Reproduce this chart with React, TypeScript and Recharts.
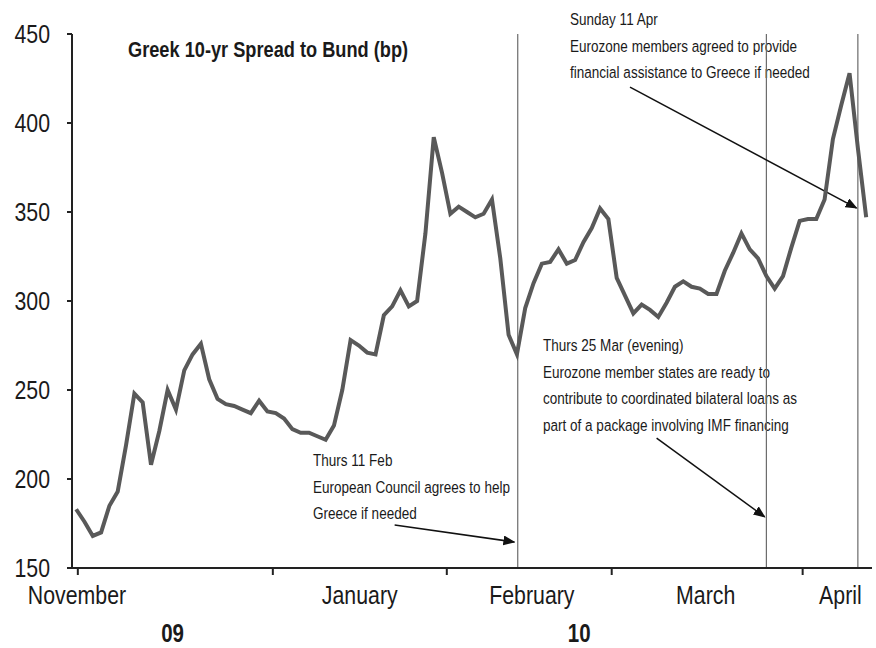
import { Line, LineChart, ReferenceLine, XAxis, YAxis } from 'recharts';

// Greek 10-yr spread to Bund (bp), one value per business day, Nov 09 -> Apr 10
const spread = [
  183, 176, 168, 170, 185, 193, 219, 248, 243, 208,
  227, 250, 239, 261, 270, 276, 256, 245, 242, 241,
  239, 237, 244, 238, 237, 234, 228, 226, 226, 224,
  222, 230, 250, 278, 275, 271, 270, 292, 297, 306,
  297, 300, 338, 392, 372, 349, 353, 350, 347, 349,
  357, 324, 281, 270, 296, 310, 321, 322, 329, 321,
  323, 333, 341, 352, 346, 313, 303, 293, 298, 295,
  291, 299, 308, 311, 308, 307, 304, 304, 317, 327,
  338, 329, 324, 314, 307, 314, 330, 345, 346, 346,
  357, 391, 410, 428, 386, 347,
];

const yTicks = [150, 200, 250, 300, 350, 400, 450];

// x positions are in business-day units
const monthStarts = [0.2, 23.65, 44.57, 64.4, 87.36];
const monthLabels = ['November', 'January', 'February', 'March', 'April'];
const monthLabelPos = [0.1, 34.1, 54.8, 75.7, 91.9];
const yearLabels = ['09', '10'];
const yearLabelPos = [11.6, 60.5];

// Thurs 11 Feb, Thurs 25 Mar, Sunday 11 Apr
const eventDays = [53.1, 83.0, 94.0];

const arrows = [
  [{ x: 38.3, y: 174.2 }, { x: 52.7, y: 164.6 }],
  [{ x: 69.8, y: 223 }, { x: 82.8, y: 178.7 }],
  [{ x: 66.6, y: 420.2 }, { x: 93.85, y: 352.2 }],
];

const notes = [
  { x: 570, y: 25, lines: ['Sunday 11 Apr', 'Eurozone members agreed to provide', 'financial assistance to Greece if needed'] },
  {
    x: 543, y: 351, lines: ['Thurs 25 Mar (evening)', 'Eurozone member states are ready to',
      'contribute to coordinated bilateral loans as', 'part of a package involving IMF financing'],
  },
  { x: 313, y: 466, lines: ['Thurs 11 Feb', 'European Council agrees to help', 'Greece if needed'] },
];

const data = spread.map((v, i) => ({ i, spread: v }));

const FONT = "'Liberation Sans', Arial, sans-serif";
const INK = '#1a1a1a';
const NARROW = 0.82; // no narrow face installed, squeeze the regular one

const allTicks = [...monthStarts, ...monthLabelPos, ...yearLabelPos];

const NText = ({ x, y, anchor = 'start', size, bold = false, dy, children }: any) => (
  <text
    transform={`translate(${x},${y}) scale(${NARROW},1)`}
    x={0}
    y={0}
    dy={dy}
    textAnchor={anchor}
    fontFamily={FONT}
    fontSize={size}
    fontWeight={bold ? 'bold' : 'normal'}
    fill={INK}
  >
    {children}
  </text>
);

const XTick = (props: any) => {
  const { x, y, payload } = props;
  const v = payload.value;
  const m = monthLabelPos.indexOf(v);
  if (m >= 0) {
    return <NText x={x} y={y + 36} anchor="middle" size={26}>{monthLabels[m]}</NText>;
  }
  const yr = yearLabelPos.indexOf(v);
  if (yr >= 0) {
    return <NText x={x} y={y + 74} anchor="middle" size={25} bold>{yearLabels[yr]}</NText>;
  }
  return <line x1={x} y1={y} x2={x} y2={y + 7} stroke="#222" strokeWidth={2} />;
};

const YTick = (props: any) => {
  const { x, y, payload } = props;
  return <NText x={x} y={y} anchor="end" size={26} dy="0.355em">{payload.value}</NText>;
};

export default function App() {
  return (
    <div style={{ position: 'absolute', left: 0, top: 0, width: 876, height: 648, background: '#fff' }}>
      <LineChart width={876} height={648} data={data} margin={{ top: 34, right: 4, left: 0, bottom: 50 }}>
        <defs>
          <marker id="arrowHead" markerWidth="12" markerHeight="10" refX="11" refY="5" orient="auto" markerUnits="userSpaceOnUse">
            <path d="M0,0 L12,5 L0,10 z" fill="#111" />
          </marker>
        </defs>
        <XAxis
          type="number"
          dataKey="i"
          domain={[-0.5, 95.7]}
          ticks={allTicks}
          interval={0}
          tickLine={false}
          tickSize={0}
          tickMargin={0}
          axisLine={{ stroke: '#222', strokeWidth: 2 }}
          height={30}
          tick={<XTick />}
          allowDataOverflow
        />
        <YAxis
          domain={[150, 450]}
          ticks={yTicks}
          width={72}
          tickSize={5}
          tickMargin={17}
          axisLine={{ stroke: '#222', strokeWidth: 2 }}
          tickLine={{ stroke: '#222', strokeWidth: 2 }}
          tick={<YTick />}
        />
        {eventDays.map((d) => (
          <ReferenceLine key={d} x={d} stroke="#6b6b6b" strokeWidth={1.2} />
        ))}
        {arrows.map((seg, k) => (
          <ReferenceLine key={'a' + k} segment={seg} stroke="#111" strokeWidth={1.5} markerEnd="url(#arrowHead)" ifOverflow="visible" />
        ))}
        <Line
          type="linear"
          dataKey="spread"
          stroke="#595959"
          strokeWidth={4}
          dot={false}
          isAnimationActive={false}
        />
        <g>
          <NText x={128} y={57} size={22.2} bold>Greek 10-yr Spread to Bund (bp)</NText>
          {notes.map((n) =>
            n.lines.map((t, k) => (
              <NText key={n.x + '-' + k} x={n.x} y={n.y + k * 26.5} size={16.5}>{t}</NText>
            ))
          )}
        </g>
      </LineChart>
    </div>
  );
}
